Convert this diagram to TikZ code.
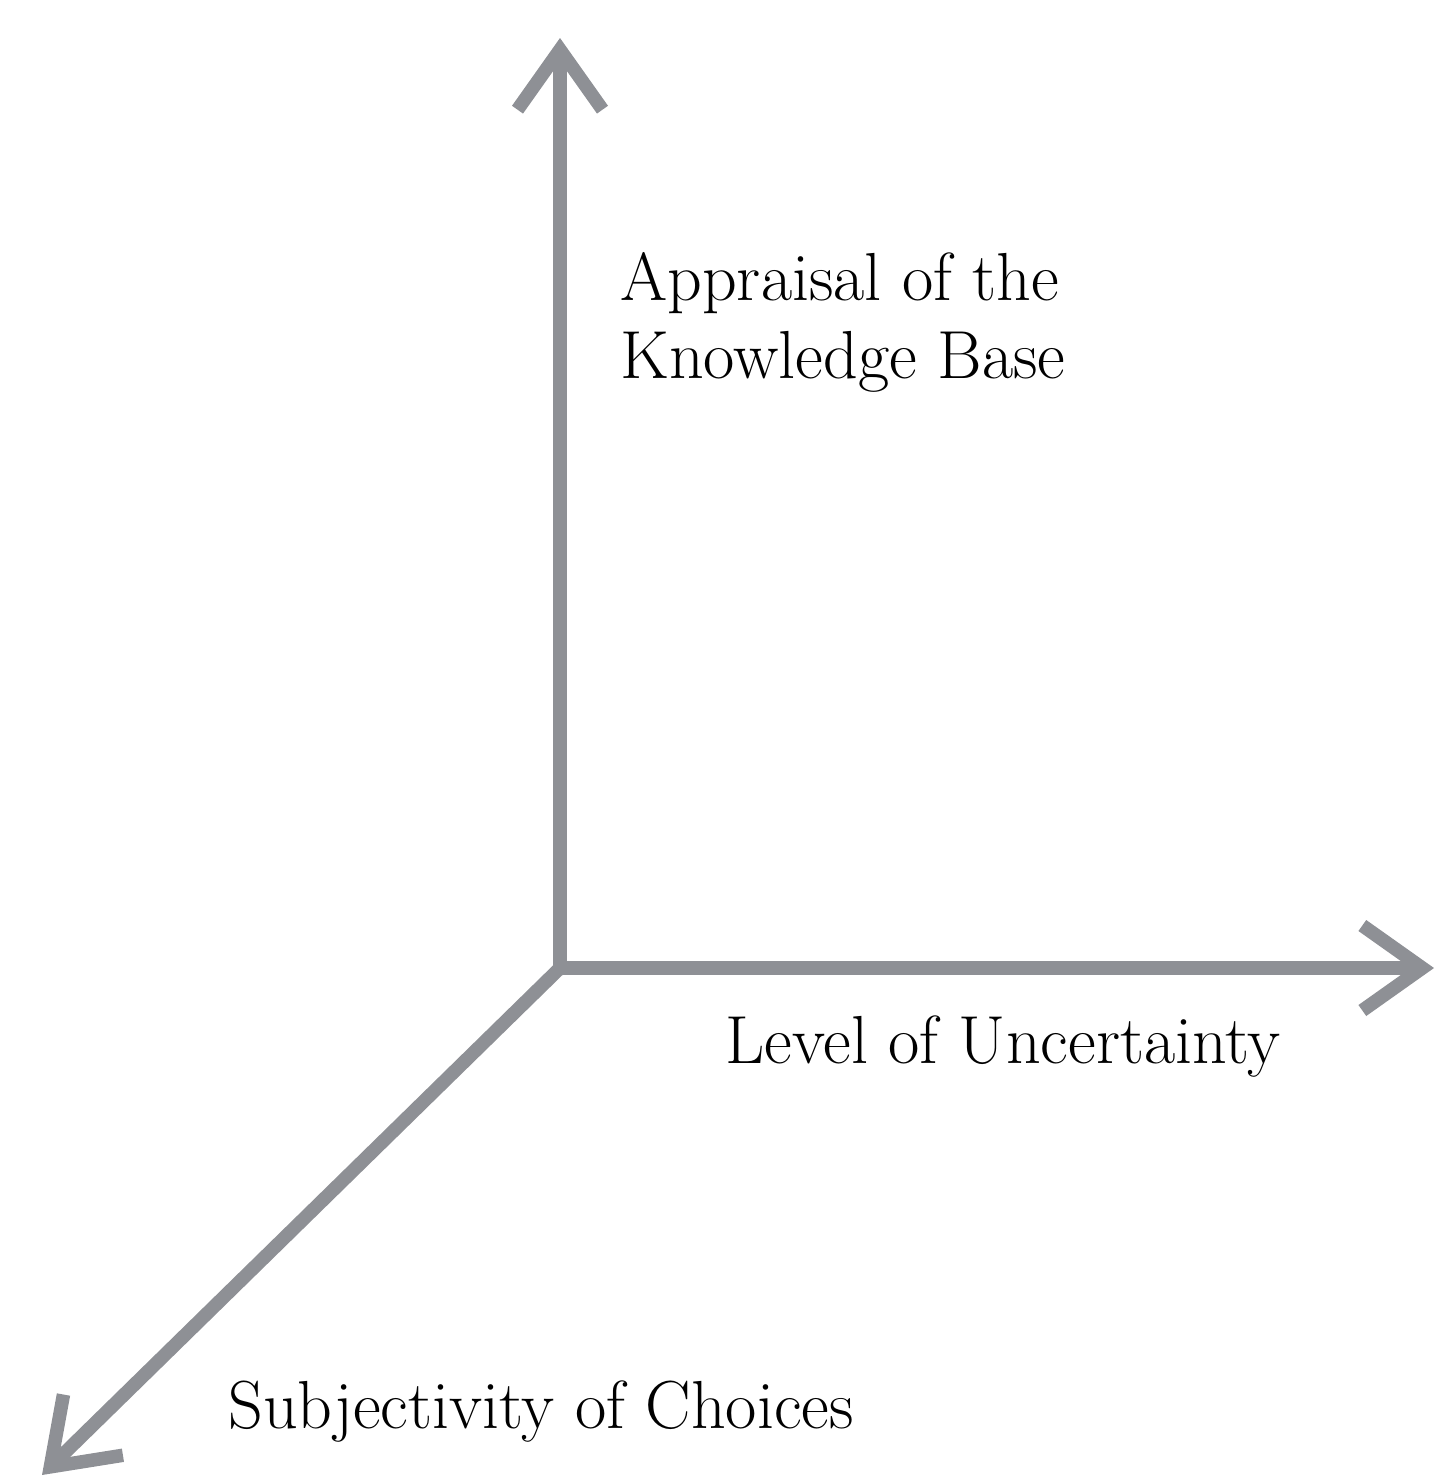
\documentclass[tikz,border=0pt]{standalone}
\usepackage{tikz}
\usetikzlibrary{arrows.meta}
\definecolor{axisgray}{HTML}{8E9095}
\tikzset{
  axis/.style={line width=0.27cm, color=axisgray, line cap=butt,
    -{Straight Barb[length=1.2cm, width=1.7cm]}},
  axislabel/.style={anchor=base west, inner sep=0pt, align=left,
    font=\fontsize{38.7}{39}\selectfont}
}
\begin{document}
\begin{tikzpicture}[x=0.02cm, y=-0.02cm]
		%%%%% START %%%%%
		\useasboundingbox (0, 0) rectangle (1439, 1482);
		
		\coordinate (origin) at (560, 968);
		\coordinate (appraisaltip) at (560, 38);
		\coordinate (uncertaintytip) at (1434, 968);
		\coordinate (subjectivitytip) at (42, 1475);
		
		\draw[axis] (560, 975) -- (appraisaltip);
		\draw[axis] (553, 968) -- (uncertaintytip);
		\draw[axis] (origin) -- (subjectivitytip);
		
		\node[axislabel] (appraisal) at (620, 300) {Appraisal of the};
		\node[axislabel] (knowledge) at (620, 378) {Knowledge Base};
		\node[axislabel] (uncertainty) at (725, 1063) {Level of Uncertainty};
		\node[axislabel] (subjectivity) at (228, 1428) {Subjectivity of Choices};
		
		%%%%% END %%%%%
	\end{tikzpicture}
\end{document}
